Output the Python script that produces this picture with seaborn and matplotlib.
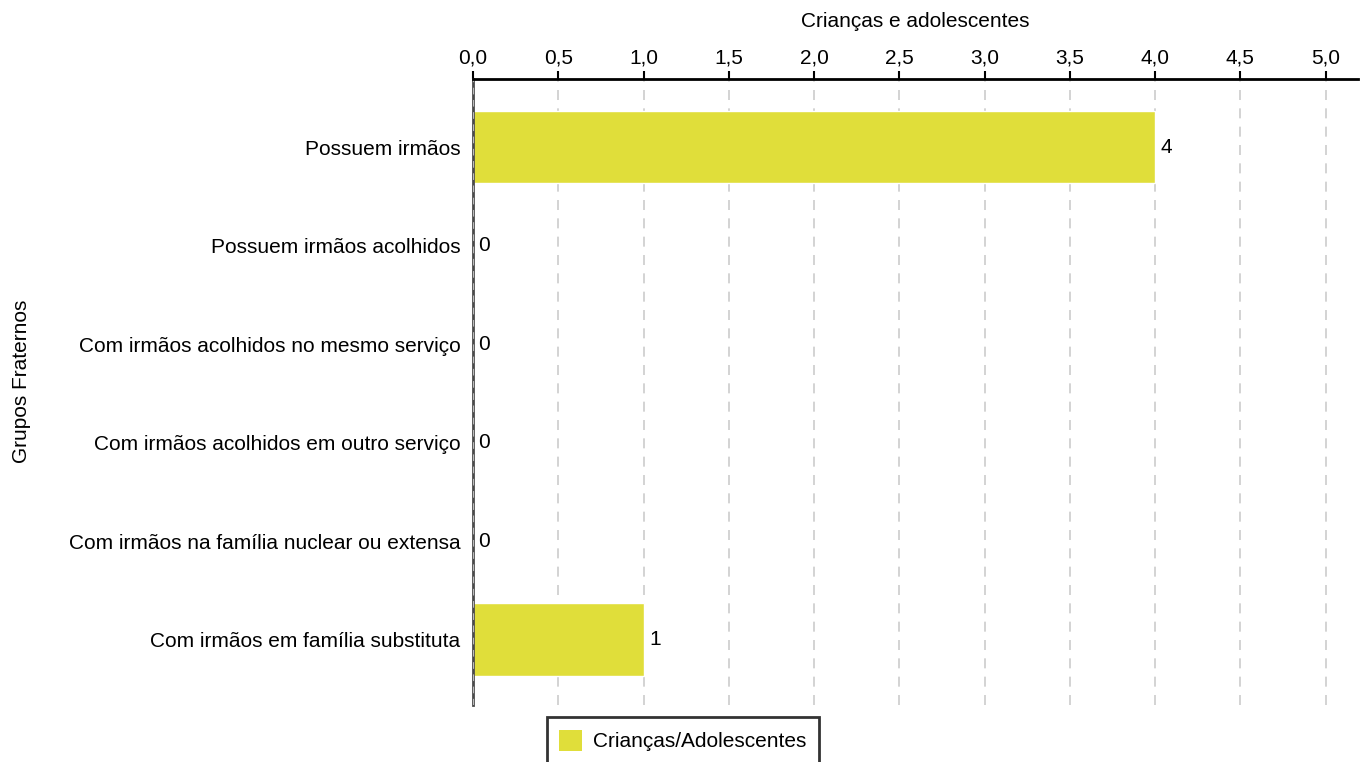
import matplotlib
matplotlib.use("Agg")
import matplotlib.pyplot as plt
import seaborn as sns
import pandas as pd
from matplotlib.patches import Patch

categories = [
    "Possuem irmãos",
    "Possuem irmãos acolhidos",
    "Com irmãos acolhidos no mesmo serviço",
    "Com irmãos acolhidos em outro serviço",
    "Com irmãos na família nuclear ou extensa",
    "Com irmãos em família substituta",
]
values = [4, 0, 0, 0, 0, 1]
series_name = "Crianças/Adolescentes"
x_ticks = [0.0, 0.5, 1.0, 1.5, 2.0, 2.5, 3.0, 3.5, 4.0, 4.5, 5.0]
x_tick_labels = ["0,0", "0,5", "1,0", "1,5", "2,0", "2,5", "3,0", "3,5", "4,0", "4,5", "5,0"]

df = pd.DataFrame({"cat": categories, "val": values})

sns.set_theme(style="white")
plt.rcParams["font.family"] = ["Liberation Sans", "DejaVu Sans"]
plt.rcParams["text.color"] = "black"
plt.rcParams["axes.labelcolor"] = "black"
plt.rcParams["xtick.color"] = "black"
plt.rcParams["ytick.color"] = "black"

FS = 15
color = "#e0de3a"
fig = plt.figure(figsize=(13.61, 7.62), dpi=100)
ax = fig.add_axes([473/1361, 1-705/762, (1358-473)/1361, (705-79)/762])

sns.barplot(data=df, y="cat", x="val", orient="h", color=color, width=0.74,
            saturation=1, ax=ax, zorder=3)

ax.set_xlim(0, 5.19)
ax.set_ylim(5.66, -0.69)
ax.xaxis.tick_top()
ax.xaxis.set_label_position("top")
ax.set_xticks(x_ticks)
ax.set_xticklabels(x_tick_labels, fontsize=FS)
ax.tick_params(axis="x", direction="out", length=6, width=1.5, color="black", pad=2)
ax.tick_params(axis="y", length=0, labelsize=FS, pad=9)
ax.set_xlabel("Crianças e adolescentes", fontsize=FS, labelpad=16)
ax.set_ylabel("Grupos Fraternos", fontsize=FS)
ax.yaxis.set_label_coords(31/1361, 0.5, transform=fig.transFigure)

ax.grid(axis="x", color="#cccccc", linestyle=(0, (6, 5)), linewidth=1.2, zorder=0)
ax.grid(axis="y", visible=False)
for s in ["right", "bottom"]:
    ax.spines[s].set_visible(False)
ax.spines["top"].set_color("black")
ax.spines["top"].set_linewidth(2)
ax.spines["top"].set_zorder(5)
ax.spines["left"].set_color("#4a4a4a")
ax.spines["left"].set_linewidth(2)
ax.spines["left"].set_zorder(4)
ax.axvline(0, color="#bbbbbb", linestyle=(0, (6, 5)), linewidth=0.8, zorder=4.5)

for container in ax.containers:
    ax.bar_label(container, labels=[str(v) for v in values], padding=4, fontsize=FS)

handles = [Patch(facecolor=color, edgecolor="none", label=series_name)]
leg = fig.legend(handles=handles, loc="upper center", bbox_to_anchor=(683/1361, 1-717/762),
                 fontsize=FS, frameon=True, fancybox=False, handlelength=1.1,
                 handleheight=1.2, borderpad=0.6, handletextpad=0.55, borderaxespad=0)
leg.get_frame().set_edgecolor("black")
leg.get_frame().set_linewidth(2)

fig.savefig("out.png", dpi=100)
